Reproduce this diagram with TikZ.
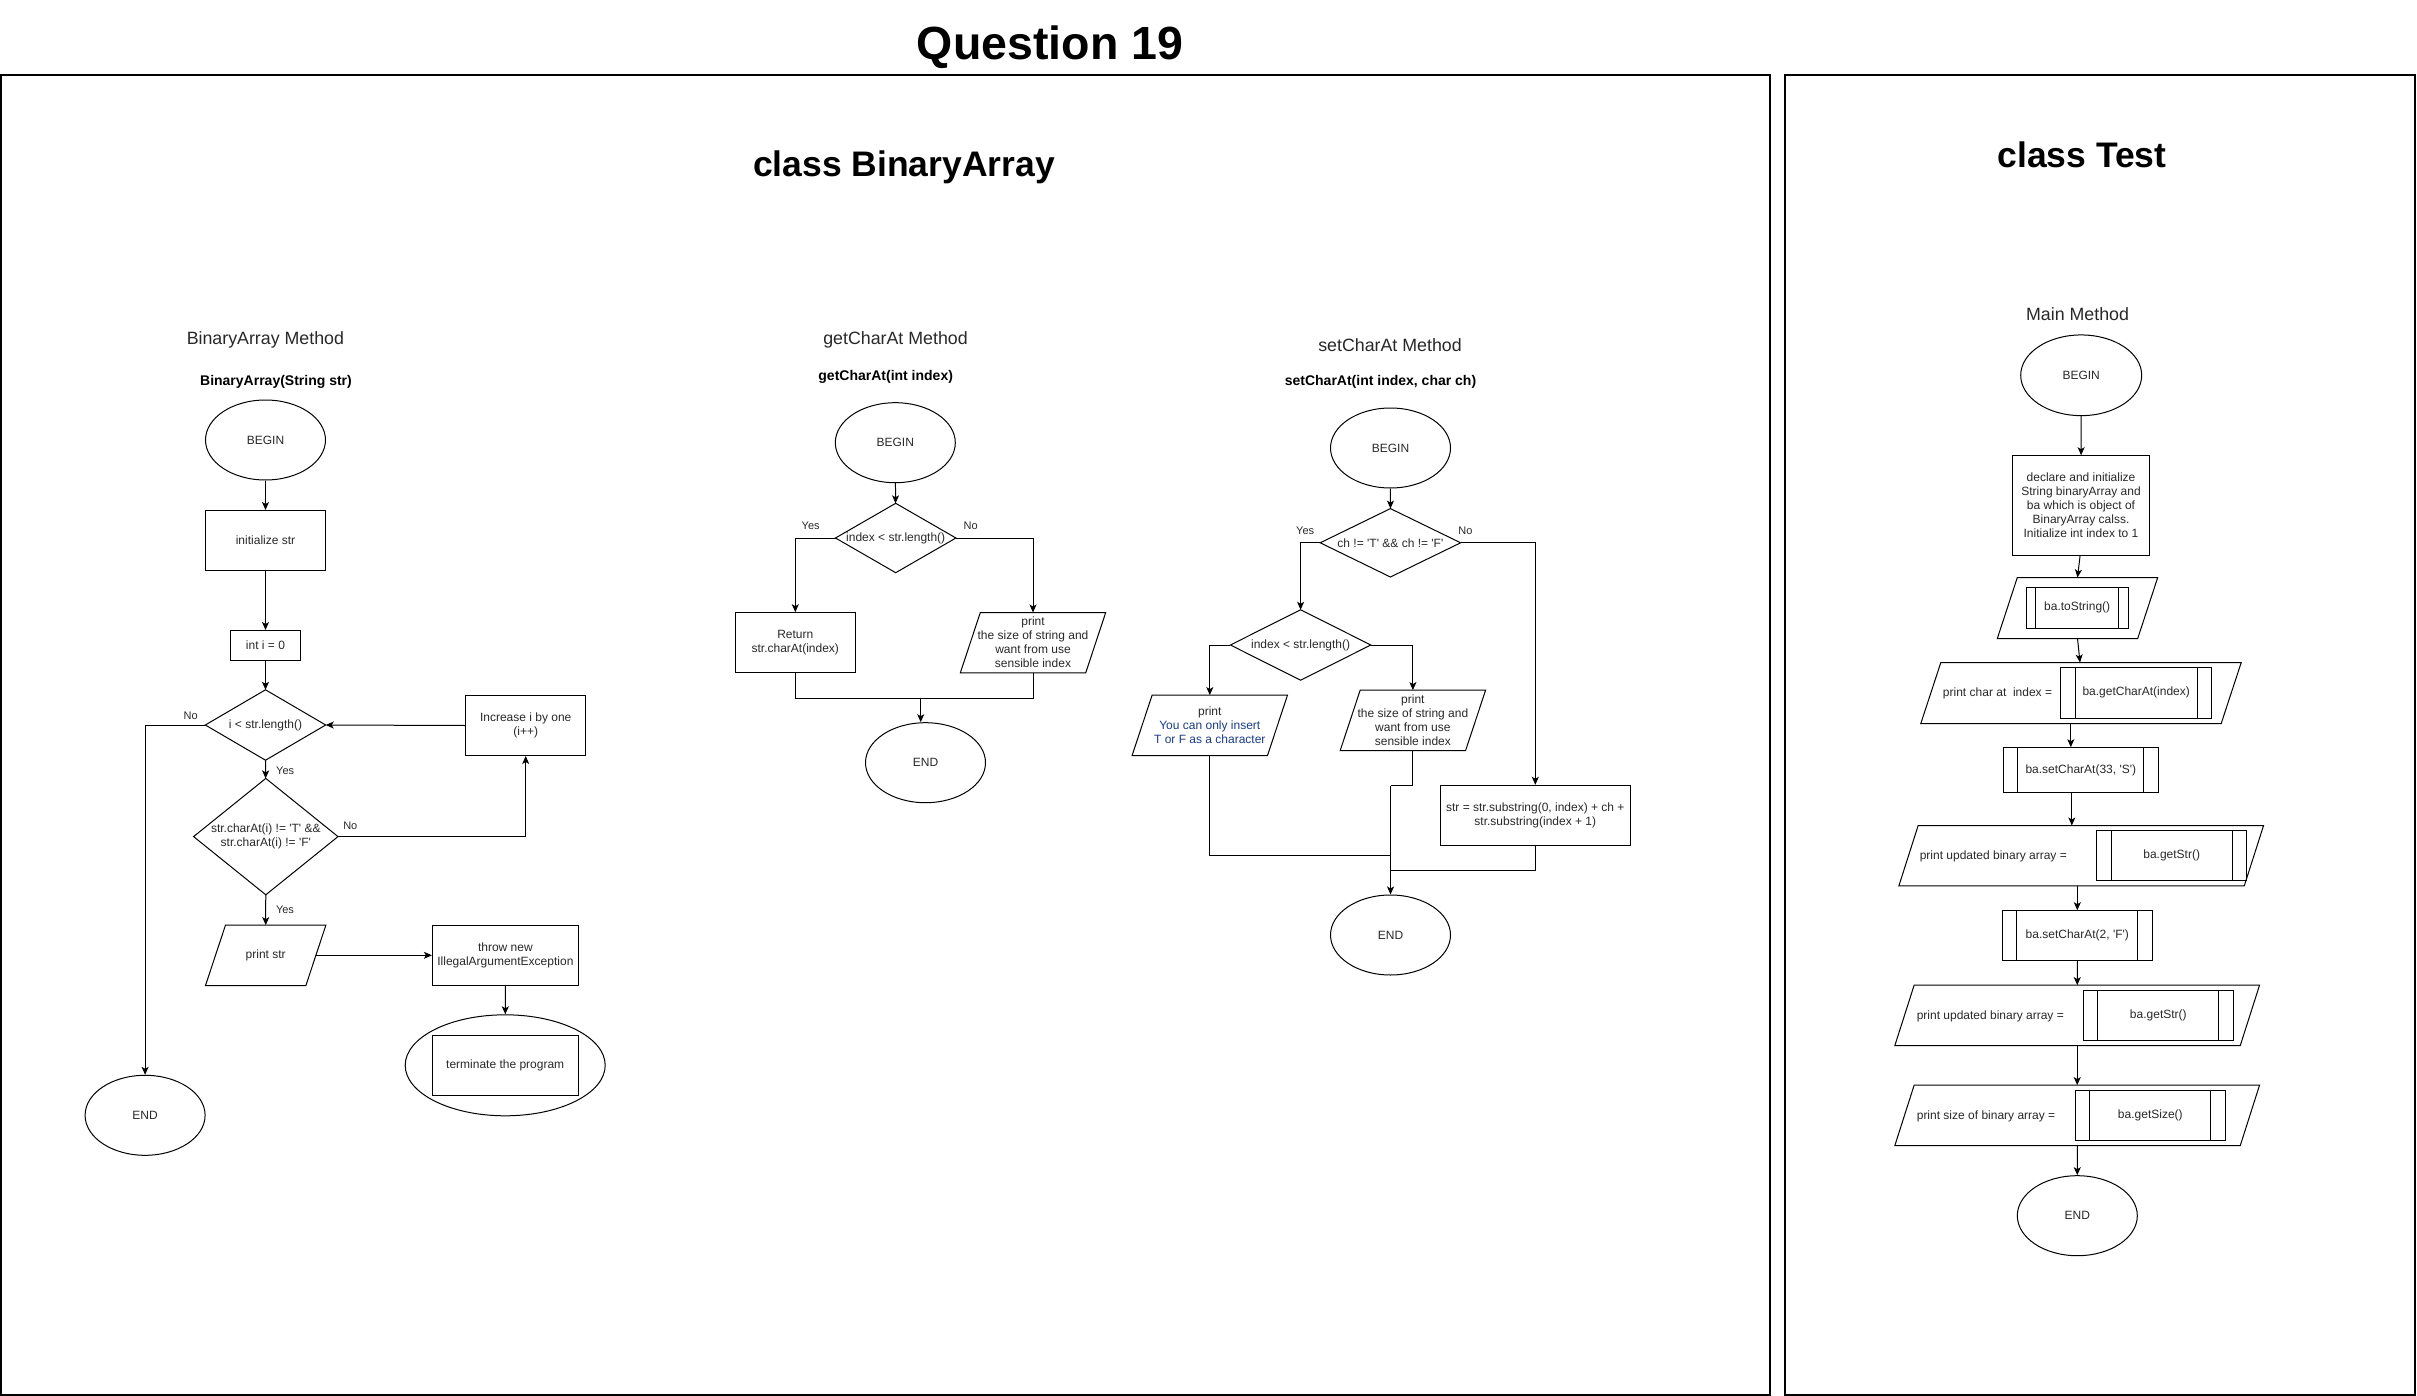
\documentclass[tikz,border=0pt]{standalone}
\usepackage{fontspec}
\setmainfont{Liberation Sans}
\usetikzlibrary{arrows.meta,shapes.geometric}
\definecolor{txt}{RGB}{40,40,40}
\definecolor{bluetxt}{RGB}{25,60,135}
\newcommand\sqt{\textquotesingle}
\newcommand\drawdiam[1]{\draw[shp] (#1.north) -- (#1.east) -- (#1.south) -- (#1.west) -- cycle;}
\newcommand\drawpara[2][20]{\draw[shp] ([xshift=#1pt]#2.north west) -- (#2.north east) -- ([xshift=-#1pt]#2.south east) -- (#2.south west) -- cycle;}
\newcommand\drawpp[2][15]{\draw[shp] ([xshift=#1pt]#2.north west) -- ([xshift=#1pt]#2.south west) ([xshift=-#1pt]#2.north east) -- ([xshift=-#1pt]#2.south east);}
\begin{document}
\begin{tikzpicture}[x=1pt,y=-1pt,
  every node/.style={font=\fontsize{12}{14}\selectfont, text=txt, align=center, inner sep=0pt},
  shp/.style={draw=black, line width=1pt},
  term/.style={shp, ellipse, minimum width=120pt, minimum height=80pt},
  proc/.style={shp, rectangle, minimum width=120pt, minimum height=60pt},
  frm/.style={rectangle, minimum width=120pt, minimum height=60pt},
  arr/.style={-{Stealth[length=8pt,width=7pt,inset=2pt]}, line width=1pt},
  ln/.style={line width=1pt},
  lbl/.style={font=\fontsize{11}{13}\selectfont},
  mtitle/.style={font=\fontsize{17.8}{20}\selectfont},
  msub/.style={font=\bfseries\fontsize{14}{16}\selectfont, text=black},
  ctitle/.style={font=\bfseries\fontsize{35.5}{40}\selectfont, text=black, anchor=base},
  panel/.style={draw=black, line width=1.3pt}
]
\useasboundingbox (0,0) rectangle (2417,1396);

% ---------- frames and titles ----------
\draw[panel] (1,75) rectangle (1770,1395);
\draw[panel] (1785,75) rectangle (2415,1395);
\node[font=\bfseries\fontsize{46.5}{50}\selectfont, text=black, anchor=base] (q19) at (1050,60) {Question 19};
\node[ctitle] (cba) at (904,177) {class BinaryArray};
\node[ctitle] (ctest) at (2082,167.3) {class Test};

% ---------- BinaryArray method ----------
\node[mtitle] (t1) at (265.4,340) {BinaryArray Method};
\node[msub] (s1) at (276,381.7) {BinaryArray(String str)};
\node[term] (b1) at (265.5,440) {BEGIN};
\node[proc] (init) at (265.5,540.5) {initialize str};
\node[proc, minimum width=70pt, minimum height=30pt] (inti) at (265.5,645.5) {int i = 0};
\node[frm, minimum width=120pt, minimum height=70pt] (d1) at (265.5,725) {i < str.length()};
\drawdiam{d1}
\node[proc] (inc) at (525.7,725.5) {Increase i by one\\(i++)};
\node[frm, minimum width=144pt, minimum height=116pt] (d2) at (265.8,836.6) {str.charAt(i) != \sqt T\sqt\ \&\&\\str.charAt(i) != \sqt F\sqt};
\drawdiam{d2}
\node[frm] (pstr) at (265.7,955.3) {print str};
\drawpara{pstr}
\node[proc, minimum width=146pt] (thr) at (505.4,955.3) {throw new\\IllegalArgumentException};
\node[term, minimum width=200pt, minimum height=101pt] (terme) at (505.2,1065.3) {};
\node[proc, minimum width=146pt] (termr) at (505.2,1065.3) {terminate the program};
\node[term] (e1) at (145.1,1115.3) {END};

\draw[arr] (b1) -- (init);
\draw[arr] (init) -- (inti);
\draw[arr] (inti) -- (d1);
\draw[arr] (d1.west) -| (e1.north);
\draw[arr] (d1) -- (d2);
\draw[arr] (d2.east) -| (inc.south);
\draw[arr] (inc.west) -- (d1.east);
\draw[arr] (d2) -- (pstr);
\draw[arr] ([xshift=-10pt]pstr.east) -- (thr.west);
\draw[arr] (thr) -- (terme);

\node[lbl] (l1) at (190.7,715.7) {No};
\node[lbl] (l2) at (285.2,770.7) {Yes};
\node[lbl] (l3) at (350.3,825.4) {No};
\node[lbl] (l4) at (285,910) {Yes};

% ---------- getCharAt method ----------
\node[mtitle] (t2) at (895.5,340) {getCharAt Method};
\node[msub] (s2) at (885.7,376.7) {getCharAt(int index)};
\node[term] (b2) at (895.3,442.7) {BEGIN};
\node[frm, minimum width=120pt, minimum height=69pt] (g1) at (895.7,538) {index < str.length()};
\drawdiam{g1}
\node[proc] (ret) at (795.3,642.7) {Return\\str.charAt(index)};
\node[frm, minimum width=145pt, minimum height=60pt] (gp) at (1033,642.7) {print\\the size of string and\\want from use\\sensible index};
\drawpara{gp}
\node[term] (e2) at (925.5,762.7) {END};
\coordinate (m2) at (920.7,697.7);

\draw[arr] (b2) -- (g1);
\draw[arr] (g1.west) -| (ret.north);
\draw[arr] (g1.east) -| (gp.north);
\draw[ln] (ret.south) -- ++(0,25) -| (gp.south);
\draw[arr] (m2) -- (m2 |- e2.north);

\node[lbl] (l5) at (810.7,525.7) {Yes};
\node[lbl] (l6) at (970.7,525.7) {No};

% ---------- setCharAt method ----------
\node[mtitle] (t3) at (1390,344.9) {setCharAt Method};
\node[msub] (s3) at (1380.5,381.4) {setCharAt(int index, char ch)};
\node[term] (b3) at (1390.5,448) {BEGIN};
\node[frm, minimum width=140pt, minimum height=68pt] (sd1) at (1390.4,542.8) {ch != \sqt T\sqt\ \&\& ch != \sqt F\sqt};
\drawdiam{sd1}
\node[frm, minimum width=140pt, minimum height=70pt] (sd2) at (1300.6,645) {index < str.length()};
\drawdiam{sd2}
\node[frm, minimum width=155pt, minimum height=60pt] (sp1) at (1209.8,725.3) {print\\\textcolor{bluetxt}{You can only insert}\\\textcolor{bluetxt}{T or F as a character}};
\drawpara{sp1}
\node[frm, minimum width=145pt, minimum height=60pt] (sp2) at (1412.9,720.3) {print\\the size of string and\\want from use\\sensible index};
\drawpara{sp2}
\node[proc, minimum width=190pt] (sstr) at (1535.3,815.3) {str = str.substring(0, index) + ch +\\str.substring(index + 1)};
\node[term] (e3) at (1390.5,935) {END};
\coordinate (m3) at (1390.5,785.6);
\coordinate (m3a) at (1390.5,855.7);
\coordinate (m3b) at (1390.5,870.6);

\draw[arr] (b3) -- (sd1);
\draw[arr] (sd1.west) -| (sd2.north);
\draw[arr] (sd1.east) -| (sstr.north);
\draw[arr] (sd2.west) -| (sp1.north);
\draw[arr] (sd2.east) -| (sp2.north);
\draw[ln] (sp2.south) |- (m3);
\draw[ln] (sp1.south) |- (m3a);
\draw[ln] (sstr.south) |- (m3b);
\draw[arr] (m3) -- (e3);

\node[lbl] (l7) at (1305.2,530.6) {Yes};
\node[lbl] (l8) at (1465.5,530.6) {No};

% ---------- Main method ----------
\node[mtitle] (t4) at (2077.5,314.3) {Main Method};
\node[term, minimum width=121pt, minimum height=80.7pt] (b4) at (2081.2,375.3) {BEGIN};
\node[proc, minimum width=137.3pt, minimum height=100pt] (decl) at (2081,505.7) {declare and initialize\\String binaryArray and\\ba which is object of\\BinaryArray calss.\\Initialize int index to 1};
\node[frm, minimum width=160pt, minimum height=60.6pt] (pts) at (2077.5,608) {};
\drawpara{pts}
\node[proc, minimum width=102.3pt, minimum height=41pt] (its) at (2077.2,607.8) {ba.toString()};
\drawpp[10]{its}
\node[frm, minimum width=320pt, minimum height=60.6pt] (pch) at (2081,693) {};
\drawpara{pch}
\node (tch) at (1997.5,693.3) {print char at\ \ index =};
\node[proc, minimum width=151pt, minimum height=51pt] (ich) at (2136.2,692.8) {ba.getCharAt(index)};
\drawpp{ich}
\node[proc, minimum width=155pt, minimum height=45pt] (sc1) at (2080.8,770.2) {ba.setCharAt(33, \sqt S\sqt)};
\drawpp{sc1}
\node[frm, minimum width=364.3pt, minimum height=60pt] (pu1) at (2081.2,855.7) {};
\drawpara[19.3]{pu1}
\node (tu1) at (1993.3,856) {print updated binary array =};
\node[proc, minimum width=150pt, minimum height=50pt] (iu1) at (2171.7,855) {ba.getStr()};
\drawpp{iu1}
\node[proc, minimum width=150pt, minimum height=50pt] (sc2) at (2077.3,935.7) {ba.setCharAt(2, \sqt F\sqt)};
\drawpp{sc2}
\node[frm, minimum width=364.3pt, minimum height=60pt] (pu2) at (2077.2,1015.3) {};
\drawpara[19.3]{pu2}
\node (tu2) at (1990.3,1016) {print updated binary array =};
\node[proc, minimum width=150pt, minimum height=50pt] (iu2) at (2158.3,1015.5) {ba.getStr()};
\drawpp{iu2}
\node[frm, minimum width=364.3pt, minimum height=60pt] (pu3) at (2077.2,1115.3) {};
\drawpara[19.3]{pu3}
\node (tu3) at (1986,1116) {print size of binary array =};
\node[proc, minimum width=150pt, minimum height=50pt] (iu3) at (2150.3,1115.3) {ba.getSize()};
\drawpp{iu3}
\node[term] (e4) at (2077.3,1215.7) {END};

\draw[arr] (b4) -- (decl);
\draw[arr] ([xshift=-1pt]decl.south) -- (pts.north);
\draw[arr] (pts.south) -- ([xshift=-1pt]pch.north);
\draw[arr] ([xshift=-10pt]sc1.north |- pch.south) -- ([xshift=-10pt]sc1.north);
\draw[arr] ([xshift=-9pt]sc1.south) -- ([xshift=-9pt]sc1.south |- pu1.north);
\draw[arr] (sc2.north |- pu1.south) -- (sc2.north);
\draw[arr] (sc2) -- (pu2);
\draw[arr] (pu2) -- (pu3);
\draw[arr] (pu3) -- (e4);
\end{tikzpicture}
\end{document}
